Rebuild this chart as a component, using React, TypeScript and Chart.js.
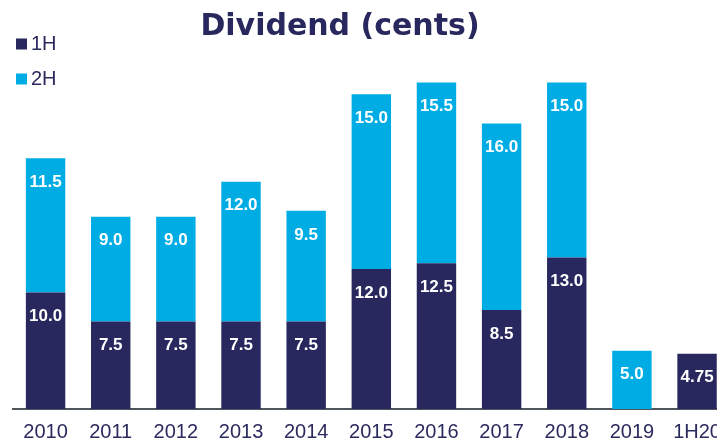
import React, { useEffect, useRef } from "react";
import { Chart, registerables } from "chart.js";

Chart.register(...registerables);

const categories = ["2010", "2011", "2012", "2013", "2014", "2015", "2016", "2017", "2018", "2019", "1H20"];
const firstHalf = [10.0, 7.5, 7.5, 7.5, 7.5, 12.0, 12.5, 8.5, 13.0, null, 4.75];
const secondHalf = [11.5, 9.0, 9.0, 12.0, 9.5, 15.0, 15.5, 16.0, 15.0, 5.0, null];
const seriesNames = ["1H", "2H"];
const titleText = "Dividend (cents)";

const NAVY = "#29285E";
const CYAN = "#00ACE4";
const TEXT = "#2B2A5E";

const fmt = (v: number) => (Math.round(v * 10) === v * 10 ? v.toFixed(1) : String(v));

const overlayPlugin = {
  id: "overlay",
  afterDatasetsDraw(chart: any) {
    const ctx = chart.ctx;
    ctx.save();
    ctx.fillStyle = "#FFFFFF";
    ctx.font = "bold 17px 'Liberation Sans', Arial, sans-serif";
    ctx.textAlign = "center";
    ctx.textBaseline = "middle";
    chart.data.datasets.forEach((ds: any, di: number) => {
      const meta = chart.getDatasetMeta(di);
      meta.data.forEach((el: any, i: number) => {
        const v = ds.data[i];
        if (v == null) return;
        const top = Math.min(el.y, el.base);
        ctx.fillText(fmt(v), el.x, top + 24);
      });
    });
    ctx.fillStyle = NAVY;
    ctx.font = "bold 30px 'DejaVu Sans', sans-serif";
    ctx.fillText(titleText, 340, 27);
    const colors = [NAVY, CYAN];
    const ys = [43.5, 78.5];
    ctx.textAlign = "left";
    ctx.font = "20px 'Liberation Sans', Arial, sans-serif";
    seriesNames.forEach((name, i) => {
      ctx.fillStyle = colors[i];
      ctx.fillRect(16, ys[i] - 5, 11, 11);
      ctx.fillStyle = TEXT;
      ctx.fillText(name, 31, ys[i] + 1);
    });
    ctx.restore();
  },
};

export default function App() {
  const ref = useRef<HTMLCanvasElement>(null);
  useEffect(() => {
    if (!ref.current) return;
    const chart = new Chart(ref.current, {
      type: "bar",
      data: {
        labels: categories,
        datasets: [
          { label: seriesNames[0], data: firstHalf, backgroundColor: NAVY, barPercentage: 0.605, categoryPercentage: 1 },
          { label: seriesNames[1], data: secondHalf, backgroundColor: CYAN, barPercentage: 0.605, categoryPercentage: 1 },
        ],
      },
      options: {
        responsive: false,
        animation: false,
        layout: { padding: { left: 13, right: 1, top: 1, bottom: -15 } },
        plugins: { legend: { display: false }, title: { display: false }, tooltip: { enabled: false } },
        scales: {
          x: {
            stacked: true,
            grid: { display: false, drawTicks: false },
            border: { display: true, color: "#50565C", width: 2 },
            ticks: {
              color: TEXT,
              padding: 14,
              maxRotation: 0,
              autoSkip: false,
              font: { family: "'Liberation Sans', Arial, sans-serif", size: 20, lineHeight: 0.9 },
            },
          },
          y: { stacked: true, display: false, min: 0, max: 35 },
        },
      },
      plugins: [overlayPlugin],
    });
    return () => chart.destroy();
  }, []);
  return (
    <div style={{ position: "fixed", left: 0, top: 0, width: 717, height: 440, overflow: "hidden", background: "#fff" }}>
      <canvas ref={ref} width={735} height={440} style={{ display: "block" }} />
    </div>
  );
}
